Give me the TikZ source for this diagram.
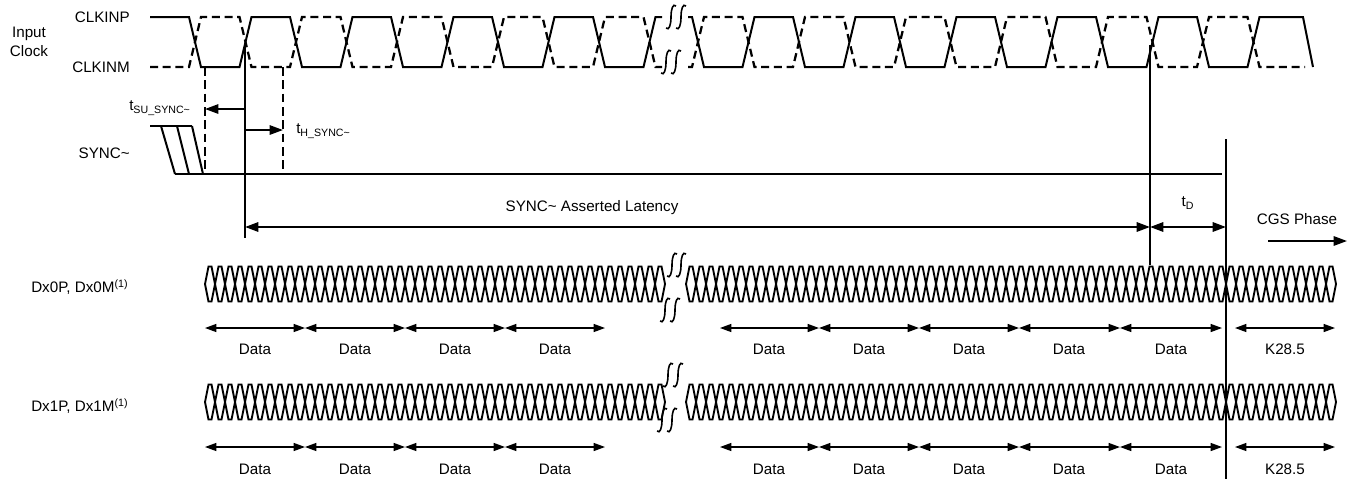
\documentclass[tikz,border=0pt]{standalone}
\usepackage{fontspec}
\setmainfont{Liberation Sans}
\usetikzlibrary{arrows.meta,positioning}
\tikzset{
    %Define standard arrow tip
    >={Triangle[length=8.5pt,width=6pt]},
    %Define style for text
    sigtext/.style={
             inner sep=0pt,
             font=\fontsize{11.4}{14.5}\selectfont},
    %Define style for waveforms
    clkp/.style={
             line width=1.5pt},
    clkm/.style={
             line width=1.7pt,
             dash pattern=on 6pt off 3.5pt},
    syncdash/.style={
             line width=1.4pt,
             dash pattern=on 6.5pt off 3.5pt},
    eye/.style={
             line width=1.4pt},
    marker/.style={
             line width=0.8pt},
    % Define arrow style
    spanarrow/.style={
            <->,
            line width=0.9pt},
    timearrow/.style={
            ->, >={Triangle[length=10pt,width=7pt]},
            line width=1.4pt},
    latarrow/.style={
            <->, >={Triangle[length=10pt,width=7pt]},
            line width=1.6pt},
    % Define break mark
    squig/.pic={
            \draw[line width=1.2pt] (-5,11) .. controls (-2,14) and (0,8) .. (0,0)
                  .. controls (0,-8) and (2,-14) .. (5,-11);}
}

\begin{document}
\begin{tikzpicture}[x=0.75pt, y=-0.75pt]
 \useasboundingbox (0,0) rectangle (1357,479);
 % signal names
 \node[sigtext, align=center] (inclk) at (29,42) {Input\\Clock};
 \node[sigtext, anchor=east] (clkinp) at (130,17) {CLKINP};
 \node[sigtext, anchor=east] (clkinm) at (130,67) {CLKINM};
 \node[sigtext, anchor=east] (sync) at (130,153) {SYNC\textasciitilde};
 \node[sigtext, anchor=west] (dx0) at (31,287) {Dx0P, Dx0M\textsuperscript{(1)}};
 \node[sigtext, anchor=west] (dx1) at (31,406) {Dx1P, Dx1M\textsuperscript{(1)}};

 % key instants
 \coordinate (edge) at (245,45);
 \coordinate (setup) at (205,67);
 \coordinate (hold) at (283,67);
 \coordinate (latend) at (1150,45);
 \coordinate (cgsstart) at (1226,139);

 % input clock
 \draw[clkp] (150,17) \foreach \k in {0,2,...,8} { -- ({189+50.5*\k},17) -- ({201+50.5*\k},67)
       -- ({239.5+50.5*\k},67) -- ({251.5+50.5*\k},17) } -- (662,17);
 \draw[clkm] (150,67) \foreach \k in {0,2,...,8} { -- ({189+50.5*\k},67) -- ({201+50.5*\k},17)
       -- ({239.5+50.5*\k},17) -- ({251.5+50.5*\k},67) } -- (662,67);
 \draw[clkp] (688,17) \foreach \k in {0,2,...,10} { -- ({692+50.5*\k},17) -- ({704+50.5*\k},67)
       -- ({742.5+50.5*\k},67) -- ({754.5+50.5*\k},17) } -- (1303,17) -- (1313,67);
 \draw[clkm] (688,67) \foreach \k in {0,2,...,10} { -- ({692+50.5*\k},67) -- ({704+50.5*\k},17)
       -- ({742.5+50.5*\k},17) -- ({754.5+50.5*\k},67) } -- (1305,67);

 % SYNC~
 \draw[clkp] (150,126) -- (192,126);
 \draw[clkp] (161,126) -- (175,174) (177,126) -- (189,174) (192,126) -- (203,174);
 \draw[clkp] (175,174) -- (1222,174);
 \draw[syncdash] (setup) -- (setup |- 0,174);
 \draw[syncdash] (hold) -- (hold |- 0,174);

 % timing markers
 \draw[marker] (edge) -- (edge |- 0,238);
 \draw[marker] (latend) -- (latend |- 0,265);
 \draw[marker] (cgsstart) -- (cgsstart |- 0,479);
 \draw[timearrow] (edge |- 0,109) -- (setup |- 0,109);
 \draw[timearrow] (edge |- 0,130) -- (hold |- 0,130);
 \draw[latarrow] (edge |- 0,227) -- (latend |- 0,227);
 \draw[latarrow] (latend |- 0,227) -- (cgsstart |- 0,227);
 \node[sigtext, anchor=west] (tsu) at (129,108) {t\textsubscript{SU\_SYNC\textasciitilde}};
 \node[sigtext, anchor=west] (th) at (296,131) {t\textsubscript{H\_SYNC\textasciitilde}};
 \node[sigtext] (latency) at (592,208) {SYNC\textasciitilde{} Asserted Latency};
 \node[sigtext] (td) at (1188,203) {t\textsubscript{D}};
 \node[sigtext] (cgs) at (1297,219) {CGS Phase};
 \draw[timearrow] (1268,241) -- (1347,241);

 % data lanes
 \foreach \y in {284,402} {
   \foreach \xs/\n in {205/45,686/64} {
     \foreach \i in {0,...,\n}
       \draw[eye] ({\xs+10*\i},\y) -- ++(3.5,-17.5) -- ++(3,0) -- ++(3.5,17.5)
             -- ++(-3.5,17.5) -- ++(-3,0) -- cycle;
   }
 }
 \foreach \y/\ly in {328/349,447/469} {
   \foreach \a/\b in {205/305,305/405,405/505,505/605,720/819,819/919,919/1019,1019/1120,1120/1222,1235/1335}
     \draw[spanarrow] (\a,\y) -- (\b,\y);
   \foreach \x in {255,355,455,555,769,869,969,1069,1171}
     \node[sigtext] at (\x,\ly) {Data};
   \node[sigtext] at (1285,\ly) {K28.5};
 }

 % break marks
 \foreach \x/\y in {671/17,681/17,666/62,676/62,672/265,681/265,665/310,675/310,668/375,678/375,662/420,672/420}
   \pic at (\x,\y) {squig};
\end{tikzpicture}
\end{document}
